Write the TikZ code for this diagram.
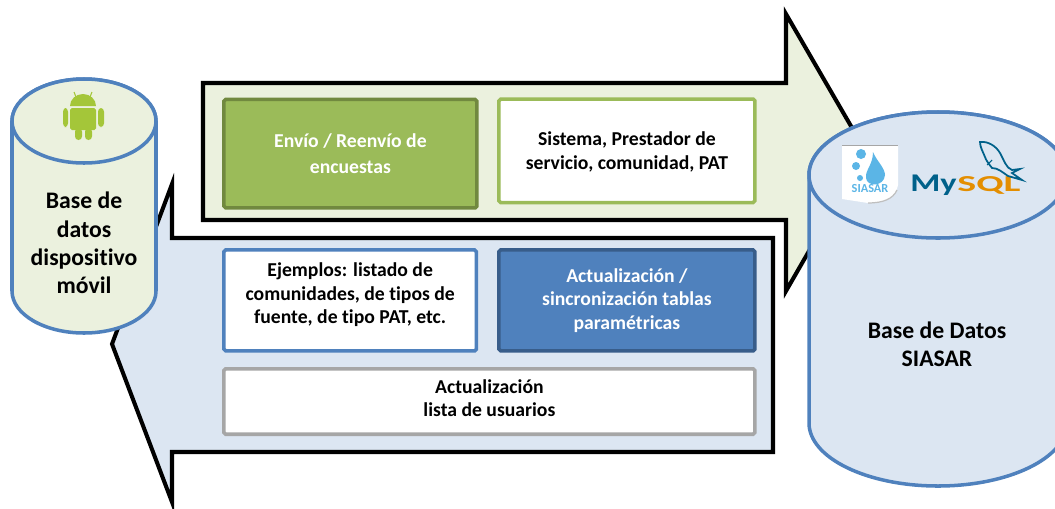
\documentclass[tikz,border=0pt]{standalone}
\usepackage{fontspec}
\setmainfont[Ligatures=NoCommon]{Carlito}
\usepackage{tikz}
\usetikzlibrary{positioning,calc}
\definecolor{sialightgreen}{HTML}{EBF1DE}
\definecolor{sialightblue}{HTML}{DCE6F2}
\definecolor{siagreen}{HTML}{9BBB59}
\definecolor{siadarkgreen}{HTML}{71893F}
\definecolor{siablue}{HTML}{4F81BD}
\definecolor{siadarkblue}{HTML}{385D8A}
\definecolor{siagray}{HTML}{A6A6A6}
\definecolor{androidgreen}{HTML}{A4C639}
\definecolor{mysqlblue}{HTML}{00618A}
\definecolor{mysqlorange}{HTML}{E48E00}
\definecolor{dropblue}{HTML}{5BB5E6}
\tikzset{
    % Big black arrows
    flowarrow/.style={
        draw=black,
        line width=2.3pt,
        miter limit=10,
        fill=#1
    },
    % Database cylinder
    dbbody/.style={
        draw=siablue,
        line width=2pt,
        fill=#1
    },
    % Content box
    infobox/.style={
        rectangle,
        rounded corners=1pt,
        draw=#1,
        line width=2pt,
        fill=white,
        text=black,
        font=\fontsize{11.2}{13.4}\selectfont\bfseries,
        align=center,
        inner sep=0pt,
        anchor=north west
    },
    % Filled content box
    fillbox/.style 2 args={
        infobox=#2,
        fill=#1,
        text=white
    },
    % Cylinder label
    dblabel/.style={
        font=\fontsize{13.5}{16.2}\selectfont\bfseries,
        align=center
    }
}
\begin{document}
\begin{tikzpicture}[x=0.02cm, y=-0.02cm]

    \useasboundingbox (0,0) rectangle (1055,508);
    \clip (0,0) rectangle (1055,508);

    % Upper arrow, to the server
    \draw[flowarrow=sialightgreen] (203,83) -- (786,83) -- (786,14) -- (866,152) -- (786,291) -- (786,220) -- (203,220) -- cycle;

    % Lower arrow, to the device
    \draw[flowarrow=sialightblue] (773,238) -- (172,238) -- (172,184) -- (112,344) -- (172,502) -- (172,452) -- (773,452) -- cycle;

    % Boxes of the upper arrow
    \node[fillbox={siagreen}{siadarkgreen}, minimum width=5.06cm, minimum height=2.17cm, font=\fontsize{11.2}{14.8}\selectfont\bfseries] (resend) at (222.2,97.7) {Envío / Reenvío de\\encuestas};
    \node[infobox=siagreen, minimum width=5.12cm, minimum height=2.07cm, text depth=-2pt] (system) at (497.2,97.3) {Sistema, Prestador de\\servicio, comunidad, PAT};

    % Boxes of the lower arrow
    \node[infobox=siablue, minimum width=5.05cm, minimum height=2.02cm, text depth=8pt] (examples) at (222.2,248.2) {Ejemplos: listado de\\comunidades, de tipos de\\fuente, de tipo PAT, etc.};
    \node[fillbox={siablue}{siadarkblue}, minimum width=5.12cm, minimum height=2.02cm] (tables) at (497.2,248.2) {Actualización /\\sincronización tablas\\paramétricas};
    \node[infobox=siagray, minimum width=10.62cm, minimum height=1.31cm, text depth=3.7pt] (users) at (222.2,367) {Actualización\\lista de usuarios};

    % Device database
    \draw[dbbody=sialightgreen] (12,121) -- (12,291) arc[start angle=180, end angle=0, x radius=72, y radius=42] -- (156,121) arc[start angle=0, end angle=-180, x radius=72, y radius=42] -- cycle;
    \draw[dbbody=sialightgreen] (12,121) arc[start angle=180, end angle=360, x radius=72, y radius=42] arc[start angle=0, end angle=180, x radius=72, y radius=42];
    \node[dblabel] (device) at (84,243) {Base de\\datos\\dispositivo\\móvil};

    % Android icon
    \fill[androidgreen] (70,106) arc[start angle=180, end angle=360, x radius=13, y radius=12] -- cycle;
    \draw[androidgreen, line width=0.6pt] (76,97) -- (74,92) (90,97) -- (92,92);
    \fill[androidgreen, rounded corners=1pt] (70,108) rectangle (96,130);
    \fill[androidgreen, rounded corners=2pt] (63,108) rectangle (68,127);
    \fill[androidgreen, rounded corners=2pt] (98,108) rectangle (104,127);
    \fill[androidgreen, rounded corners=2pt] (75,128) rectangle (82,140);
    \fill[androidgreen, rounded corners=2pt] (85,128) rectangle (92,140);

    % Server database
    \draw[dbbody=sialightblue] (809,175) -- (809,423) arc[start angle=180, end angle=0, x radius=129, y radius=63] -- (1067,175) arc[start angle=0, end angle=-180, x radius=129, y radius=63] -- cycle;
    \draw[dbbody=sialightblue] (809,175) arc[start angle=180, end angle=360, x radius=129, y radius=63] arc[start angle=0, end angle=180, x radius=129, y radius=63];
    \node[dblabel] (server) at (937,344) {Base de Datos\\SIASAR};

    % SIASAR logo
    \fill[white] (842,145) -- (898,145) -- (898,185) .. controls (896,198) and (885,203) .. (868,203) -- (842,199) -- cycle;
    \draw[gray!70, line width=0.5pt] (842,145) -- (898,145);
    \draw[gray!50, line width=0.7pt] (897,190) .. controls (893,199) and (883,203) .. (868,203);
    \fill[dropblue] (873,152) .. controls (873,165) and (865,170) .. (866,178) .. controls (867,187) and (884,187) .. (885,175) .. controls (885,168) and (876,160) .. (873,152) -- cycle;
    \fill[dropblue] (861,154) circle[radius=5];
    \fill[dropblue] (856,166) circle[radius=4];
    \fill[dropblue] (860,178) circle[radius=3];
    \node[text=dropblue, font=\fontsize{7}{8}\selectfont\bfseries, inner sep=0pt] (siasar) at (870,189) {SIASAR};

    % MySQL logo
    \node[text=mysqlblue, font=\fontsize{14.5}{16}\selectfont\bfseries, inner sep=0pt, anchor=base west] (my) at (910,191) {\scalebox{1.35}[1]{My}};
    \node[text=mysqlorange, font=\fontsize{13}{16}\selectfont\bfseries, inner sep=0pt, anchor=base west] (sql) at (my.base east) {\scalebox{1.75}[1]{SQL}};
    \draw[mysqlblue, line width=1pt] (980,142) .. controls (988,141) and (996,146) .. (1000,153) .. controls (1004,160) and (1006,168) .. (1012,170) -- (1020,169) -- (1012,173) -- (1022,180) -- (1008,176) .. controls (1002,172) and (998,168) .. (992,168) .. controls (988,163) and (986,160) .. (985,157) .. controls (983,152) and (980,147) .. (980,142) -- cycle;
    \draw[mysqlblue, line width=0.6pt] (987,165) -- (992,160);

\end{tikzpicture}
\end{document}
